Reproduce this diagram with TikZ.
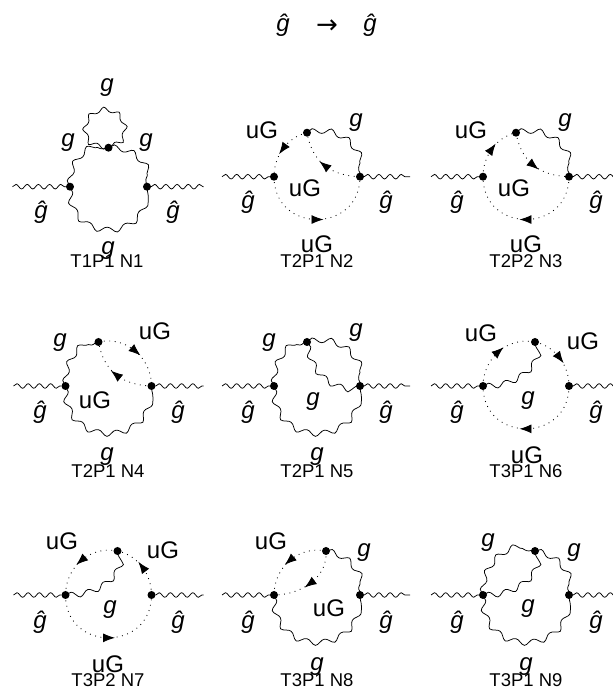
\documentclass[tikz,border=0pt]{standalone}
\usepackage{fontspec}
\setmainfont{Liberation Sans}
\usetikzlibrary{decorations.pathmorphing,decorations.markings,arrows.meta}
\tikzset{
  x=1pt,y=1pt,
  vtx/.style={circle,fill=black,inner sep=0pt,minimum size=8pt},
  wline/.style={line width=.75pt,decorate,decoration={snake,segment length=11.2pt,amplitude=2.3pt}},
  wiggle/.style={line width=.75pt,decorate,decoration={snake,segment length=17.8pt,amplitude=2.8pt}},
  wloop/.style={line width=.75pt,decorate,decoration={snake,segment length=15pt,amplitude=2.2pt}},
  ghost/.style={line width=.85pt,dash pattern=on .85pt off 4.6pt,
    postaction={decorate,decoration={markings,mark=at position .5 with {\pgftransformxshift{6.5pt}\arrow[solid]{Latex[length=12pt,width=9pt]}}}}},
  lab/.style={inner sep=0pt,font=\fontsize{24}{24}\selectfont\itshape},
  labu/.style={inner sep=0pt,font=\fontsize{24}{24}\selectfont},
  captxt/.style={inner sep=0pt,font=\fontsize{18.5}{18.5}\selectfont},
}
\def\crad{43}
% arc along a circle: style, from node, to node, from angle, to angle
\newcommand\Con[5]{%
  \pgfmathsetmacro\dth{abs(#5-#4)}%
  \pgfmathsetmacro\sg{(#5>#4)?1:-1}%
  \pgfmathsetmacro\Oo{#4+\sg*90}%
  \pgfmathsetmacro\Oi{#5-\sg*90}%
  \pgfmathsetmacro\loos{(4/3*tan(\dth/4))/(2*sin(\dth/2))/0.3915}%
  \pgfmathsetmacro\arclen{\crad*(\dth/180)*3.14159}%
  \pgfmathsetmacro\nhalf{round((\arclen/19-.625)*2)}%
  \pgfmathsetmacro\seglen{\arclen/(.625+.5*\nhalf)*.985}%
  \draw[#1,decoration={segment length=\seglen pt}] (#2.center) to[out=\Oo,in=\Oi,looseness=\loos] (#3.center);}
% frame of a cell: top-vertex x, right end
\newcommand\Frame[3]{%
  \node[vtx] (L) at (-43,0) {};
  \node[vtx] (R) at (43,0) {};
  \node[vtx] (T) at (#1,44) {};
  \coordinate (E1) at (-95,0);
  \coordinate (E2) at (#2,0);
  \draw[wline] (E1) -- (L);
  \draw[wline] (R) -- (E2);}
\newcommand\Lab[5]{\node[#1] (#2) at (#3,{689-#4}) {#5};}
\begin{document}
\begin{tikzpicture}
\useasboundingbox (0,0) rectangle (613,689);
\clip (0,0) rectangle (613,689);
% title
\Lab{lab}{tA}{283}{25}{ĝ}
\node[labu] (tB) at (327,{689-27}) {\fontspec{DejaVu Sans}\fontsize{26}{26}\selectfont →};
\Lab{lab}{tC}{370}{25}{ĝ}

% N1
\begin{scope}[shift={(108.5,502.3)},name prefix=a-]
  \def\crad{38.5}
  \node[vtx] (L) at (-38.5,0) {};
  \node[vtx] (R) at (38.5,0) {};
  \node[vtx] (T) at (0,39) {};
  \coordinate (E1) at (-96,0);
  \coordinate (E2) at (95,0);
  \draw[wline] (E1) -- (L);
  \draw[wline] (R) -- (E2);
  \Con{wiggle}{L}{T}{180}{90}
  \Con{wiggle}{T}{R}{90}{0}
  \Con{wiggle}{L}{R}{180}{360}
  \draw[wloop] (T.center) .. controls (-6,40) and (-11,41) .. (-15.8,44) arc[start angle=-140,delta angle=-260,radius=20] .. controls (11,41) and (6,40) .. (T.center);
\end{scope}
% N2
\begin{scope}[shift={(317,512.3)},name prefix=b-]
  \Frame{-10}{93}{}
  \Con{ghost}{T}{L}{103}{180}
  \Con{ghost}{L}{R}{180}{360}
  \Con{wiggle}{T}{R}{103}{0}
  \draw[ghost] (R.center) to[out=178,in=-80,looseness=1.1] (T.center);
\end{scope}
% N3
\begin{scope}[shift={(526,512.3)},name prefix=c-]
  \Frame{-10}{95}{}
  \Con{ghost}{L}{T}{180}{103}
  \Con{ghost}{R}{L}{360}{180}
  \Con{wiggle}{T}{R}{103}{0}
  \draw[ghost] (T.center) to[out=-80,in=178,looseness=1.1] (R.center);
\end{scope}
% N4
\begin{scope}[shift={(108.5,303)},name prefix=d-]
  \Frame{-10}{95}{}
  \Con{wiggle}{L}{T}{180}{103}
  \Con{ghost}{T}{R}{103}{0}
  \Con{wiggle}{L}{R}{180}{360}
  \draw[ghost] (R.center) to[out=178,in=-80,looseness=1.1] (T.center);
\end{scope}
% N5
\begin{scope}[shift={(317,303)},name prefix=e-]
  \Frame{-10}{93}{}
  \Con{wiggle}{L}{T}{180}{103}
  \Con{wiggle}{T}{R}{103}{0}
  \Con{wiggle}{L}{R}{180}{360}
  \draw[wiggle] (T.center) to[out=-80,in=178,looseness=1.1] (R.center);
\end{scope}
% N6
\begin{scope}[shift={(526,303)},name prefix=f-]
  \Frame{9}{95}{}
  \Con{ghost}{L}{T}{180}{78}
  \Con{ghost}{T}{R}{78}{0}
  \Con{ghost}{R}{L}{360}{180}
  \draw[wiggle] (L.center) to[out=0,in=-85] (T.center);
\end{scope}
% N7
\begin{scope}[shift={(108.5,94)},name prefix=g-]
  \Frame{9}{95}{}
  \Con{ghost}{T}{L}{78}{180}
  \Con{ghost}{R}{T}{0}{78}
  \Con{ghost}{L}{R}{180}{360}
  \draw[wiggle] (L.center) to[out=0,in=-85] (T.center);
\end{scope}
% N8
\begin{scope}[shift={(317,94)},name prefix=h-]
  \Frame{9}{93}{}
  \Con{ghost}{T}{L}{78}{180}
  \Con{wiggle}{T}{R}{78}{0}
  \Con{wiggle}{L}{R}{180}{360}
  \draw[ghost] (T.center) to[out=-85,in=0] (L.center);
\end{scope}
% N9
\begin{scope}[shift={(526,94)},name prefix=i-]
  \Frame{9}{95}{}
  \Con{wiggle}{L}{T}{180}{78}
  \Con{wiggle}{T}{R}{78}{0}
  \Con{wiggle}{L}{R}{180}{360}
  \draw[wiggle] (L.center) to[out=0,in=-85] (T.center);
\end{scope}

% external labels
\foreach \n/\x/\y in {a/41/212,a/173/212,b/248/202,b/386/202,c/457/202,c/596/202,
  d/40/412,d/178/412,e/248/412,e/386/412,f/457/412,f/596/412,
  g/40/622,g/178/622,h/248/622,h/386/622,i/457/622,i/596/622}
  {\node[lab] (x\n\x) at (\x,{689-\y}) {ĝ};}

% N1 labels
\Lab{lab}{a1}{107}{88}{g}
\Lab{lab}{a2}{68}{143}{g}
\Lab{lab}{a3}{146}{143}{g}
\Lab{lab}{a4}{108}{251}{g}
\Lab{captxt}{a5}{107}{261}{T1P1 N1}
% N2
\Lab{labu}{b1}{262}{130}{uG}
\Lab{lab}{b2}{356}{123}{g}
\Lab{labu}{b3}{305}{188}{uG}
\Lab{labu}{b4}{317}{244}{uG}
\Lab{captxt}{b5}{317}{261}{T2P1 N2}
% N3
\Lab{labu}{c1}{471}{130}{uG}
\Lab{lab}{c2}{565}{123}{g}
\Lab{labu}{c3}{514}{188}{uG}
\Lab{labu}{c4}{526}{244}{uG}
\Lab{captxt}{c5}{526}{261}{T2P2 N3}
% N4
\Lab{lab}{d1}{60}{343}{g}
\Lab{labu}{d2}{155}{331}{uG}
\Lab{labu}{d3}{95}{400}{uG}
\Lab{lab}{d4}{107}{457}{g}
\Lab{captxt}{d5}{108}{471}{T2P1 N4}
% N5
\Lab{lab}{e1}{269}{343}{g}
\Lab{lab}{e2}{356}{333}{g}
\Lab{lab}{e3}{313}{402}{g}
\Lab{lab}{e4}{317}{457}{g}
\Lab{captxt}{e5}{317}{471}{T2P1 N5}
% N6
\Lab{labu}{f1}{481}{333}{uG}
\Lab{labu}{f2}{583}{341}{uG}
\Lab{lab}{f3}{528}{401}{g}
\Lab{labu}{f4}{527}{455}{uG}
\Lab{captxt}{f5}{526}{471}{T3P1 N6}
% N7
\Lab{labu}{g1}{62}{541}{uG}
\Lab{labu}{g2}{163}{550}{uG}
\Lab{lab}{g3}{110}{610}{g}
\Lab{labu}{g4}{108}{664}{uG}
\Lab{captxt}{g5}{108}{680}{T3P2 N7}
% N8
\Lab{labu}{h1}{271}{541}{uG}
\Lab{lab}{h2}{364}{553}{g}
\Lab{labu}{h3}{329}{608}{uG}
\Lab{lab}{h4}{317}{667}{g}
\Lab{captxt}{h5}{317}{680}{T3P1 N8}
% N9
\Lab{lab}{i1}{488}{543}{g}
\Lab{lab}{i2}{574}{553}{g}
\Lab{lab}{i3}{528}{609}{g}
\Lab{lab}{i4}{526}{667}{g}
\Lab{captxt}{i5}{526}{680}{T3P1 N9}
\end{tikzpicture}
\end{document}
